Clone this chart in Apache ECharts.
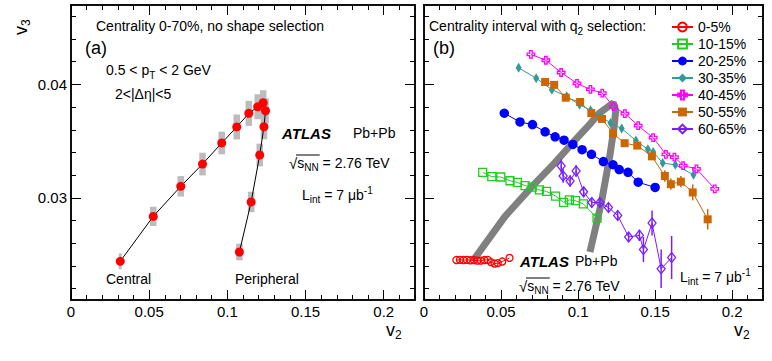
<!DOCTYPE html>
<html><head><meta charset="utf-8">
<script src="https://cdn.jsdelivr.net/npm/echarts@6/dist/echarts.min.js"></script>
<style>html,body{margin:0;padding:0;background:#fff}#c{width:772px;height:361px}</style>
</head><body><div id="c"></div>
<script>
// ---------- Panel (a): centrality 0-70%, no shape selection ----------
const aV2  = [0.0315,0.0526,0.0702,0.0841,0.0964,0.1060,0.1137,0.1194,0.1229,0.1244,0.1234,0.1207,0.1152,0.1077];
const aV3  = [0.02441,0.02837,0.03102,0.03298,0.03484,0.03625,0.03745,0.03803,0.03839,0.03768,0.03627,0.03378,0.02964,0.02523];
const aSys = [0.0007,0.00085,0.0009,0.001,0.001,0.0011,0.0011,0.0011,0.0011,0.0011,0.0011,0.001,0.0009,0.00073];

// ---------- Panel (b): centrality intervals with q2 selection ----------
const names = ['0-5%','10-15%','20-25%','30-35%','40-45%','50-55%','60-65%'];
const c0005_v2 = [0.0210,0.0233,0.0256,0.0278,0.0301,0.0324,0.0346,0.0369,0.0392,0.0414,0.0434,0.0458,0.0479,0.0508,0.0555];
const c0005_v3 = [0.02452,0.02454,0.02452,0.02454,0.02450,0.02452,0.02447,0.02447,0.02452,0.02454,0.02434,0.02421,0.02425,0.02439,0.02471];
const c1015_v2 = [0.0381,0.0440,0.0498,0.0558,0.0606,0.0656,0.0702,0.0749,0.0795,0.0854,0.0906,0.0944,0.0984,0.1034,0.1123];
const c1015_v3 = [0.03224,0.03187,0.03184,0.03151,0.03136,0.03108,0.03094,0.03070,0.03057,0.03016,0.02961,0.02982,0.02975,0.02947,0.02822];
const c2025_v2 = [0.0521,0.0623,0.0704,0.0786,0.0851,0.0909,0.0966,0.1026,0.1087,0.1164,0.1227,0.1267,0.1324,0.1390,0.1500];
const c2025_v3 = [0.03746,0.03669,0.03646,0.03582,0.03538,0.03509,0.03471,0.03425,0.03384,0.03320,0.03292,0.03250,0.03225,0.03138,0.03092];
const c3035_v2 = [0.0614,0.0728,0.0830,0.0926,0.1010,0.1081,0.1150,0.1210,0.1283,0.1375,0.1453,0.1487,0.1549,0.1631,0.1749];
const c3035_v3 = [0.04146,0.04055,0.03954,0.03895,0.03820,0.03772,0.03715,0.03661,0.03611,0.03505,0.03428,0.03404,0.03307,0.03291,0.03204];
const c4045_v2 = [0.0694,0.0791,0.0890,0.0993,0.1080,0.1157,0.1230,0.1304,0.1390,0.1487,0.1570,0.1625,0.1682,0.1768,0.1887];
const c4045_v3 = [0.04265,0.04213,0.04105,0.04009,0.03956,0.03924,0.03804,0.03743,0.03636,0.03531,0.03384,0.03360,0.03285,0.03256,0.03079];
const c5055_v2 = [0.0786,0.0845,0.0920,0.1013,0.1086,0.1155,0.1227,0.1302,0.1384,0.1479,0.1563,0.1602,0.1667,0.1744,0.1841];
const c5055_v3 = [0.04022,0.03996,0.03883,0.03845,0.03747,0.03696,0.03568,0.03482,0.03461,0.03366,0.03193,0.03121,0.03143,0.03048,0.02811];
const c5055_err= [0.0002,0.0002,0.0002,0.0002,0.0002,0.0002,0.0002,0.0003,0.0003,0.0003,0.0005,0.0005,0.0005,0.0007,0.0009];
const c6065_v2 = [0.0890,0.0903,0.0948,0.0987,0.1036,0.1089,0.1142,0.1197,0.1257,0.1328,0.1398,0.1424,0.1480,0.1539,0.1607];
const c6065_v3 = [0.03281,0.03193,0.03149,0.03237,0.03053,0.02959,0.02959,0.02915,0.02845,0.02656,0.02670,0.02545,0.02778,0.02375,0.02474];
const c6065_err= [0.0006,0.0006,0.0005,0.0005,0.0004,0.0004,0.0004,0.0004,0.0004,0.0004,0.0005,0.0011,0.0011,0.0017,0.0019];

// ---------- axis ticks ----------
const xMajor = [0,0.05,0.1,0.15,0.2];
const xMinor = [0,0.01,0.02,0.03,0.04,0.05,0.06,0.07,0.08,0.09,0.1,0.11,0.12,0.13,0.14,0.15,0.16,0.17,0.18,0.19,0.2,0.21,0.22];
const yMajor = [0.03,0.04];
const yMinor = [0.022,0.024,0.026,0.028,0.03,0.032,0.034,0.036,0.038,0.04,0.042,0.044,0.046];
const X_MIN=0, X_MAX=0.22, Y_MIN=0.021, Y_MAX=0.047;

const FF = '"Liberation Sans", Arial, Helvetica, sans-serif';
const pair = (a,b)=>a.map((v,i)=>[v,b[i]]);

function xAx(g,pos,ticks,len,lab){
  return {type:'value',gridIndex:g,position:pos,min:X_MIN,max:X_MAX,
    axisLine:{show:true,onZero:false,lineStyle:{color:'#000',width:1.5}},
    axisTick:{show:true,inside:true,length:len,customValues:ticks,lineStyle:{color:'#000',width:1}},
    axisLabel:{show:lab,customValues:ticks,margin:4,color:'#000',fontSize:15,fontFamily:FF,
      formatter:v=>String(+(+v).toFixed(2))},
    splitLine:{show:false}};
}
function yAx(g,pos,ticks,len,lab){
  return {type:'value',gridIndex:g,position:pos,min:Y_MIN,max:Y_MAX,
    axisLine:{show:true,onZero:false,lineStyle:{color:'#000',width:1.5}},
    axisTick:{show:true,inside:true,length:len,customValues:ticks,lineStyle:{color:'#000',width:1}},
    axisLabel:{show:lab,customValues:ticks,margin:4,color:'#000',fontSize:15,fontFamily:FF,
      formatter:v=>(+v).toFixed(2)},
    splitLine:{show:false}};
}
const xAxis=[], yAxis=[];
[0,1].forEach(g=>{
  xAxis.push(xAx(g,'bottom',xMajor,10,true), xAx(g,'bottom',xMinor,5,false), xAx(g,'top',xMajor,10,false), xAx(g,'top',xMinor,5,false));
  yAxis.push(yAx(g,'left',yMajor,10,g===0), yAx(g,'left',yMinor,5,false), yAx(g,'right',yMajor,10,false), yAx(g,'right',yMinor,5,false));
});

// ---------- text helper ----------
const ctx = document.createElement('canvas').getContext('2d');
function fnt(s){ return (s.i?'italic ':'')+(s.b?'bold ':'')+(s.sz||14)+'px '+FF; }
const graphics=[];
function rt(x,y,segs,target){
  let cx=x; const xs=[];
  segs.forEach(s=>{
    ctx.font=fnt(s); xs.push(cx);
    (target||graphics).push({type:'text',x:cx,y:y+(s.dy||0),silent:true,
      style:{text:s.t,font:fnt(s),fill:'#000',align:'left',verticalAlign:'middle'}});
    cx+=ctx.measureText(s.t).width;
  });
  xs.push(cx); return xs;
}
function sqrtText(x,y){
  const xs = rt(x,y,[{t:'√',sz:15},{t:'s'},{t:'NN',sz:10,dy:4},{t:' = 2.76 TeV'}]);
  graphics.push({type:'line',silent:true,shape:{x1:xs[0]+7,y1:y-8,x2:xs[3]+1,y2:y-8},style:{stroke:'#000',lineWidth:1}});
}
// panel a texts
rt(96,26,[{t:'Centrality 0-70%, no shape selection'}]);
rt(85,48,[{t:'(a)',sz:18}]);
rt(106,70,[{t:'0.5 < p'},{t:'T',sz:10,dy:5},{t:' < 2 GeV'}]);
rt(115,94,[{t:'2<|Δη|<5'}]);
rt(282,133,[{t:'ATLAS',sz:15,b:1,i:1}]);
rt(353,133,[{t:'Pb+Pb'}]);
sqrtText(289,163);
rt(302,195,[{t:'L'},{t:'int',sz:10,dy:4},{t:' = 7 μb'},{t:'-1',sz:10,dy:-5}]);
rt(106,279,[{t:'Central'}]);
rt(235,279,[{t:'Peripheral'}]);
rt(386,330,[{t:'v',sz:18},{t:'2',sz:12,dy:5}]);
// panel b texts
rt(429,26,[{t:'Centrality interval with q'},{t:'2',sz:10,dy:5},{t:' selection:'}]);
rt(433,48,[{t:'(b)',sz:18}]);
rt(520,261,[{t:'ATLAS',sz:15,b:1,i:1}]);
rt(575,261,[{t:'Pb+Pb'}]);
sqrtText(519,286);
rt(680,277,[{t:'L'},{t:'int',sz:10,dy:4},{t:' = 7 μb'},{t:'-1',sz:10,dy:-5}]);
rt(734,330,[{t:'v',sz:18},{t:'2',sz:12,dy:5}]);
// rotated v3
const v3kids=[]; rt(0,0,[{t:'v',sz:18},{t:'3',sz:12,dy:5}],v3kids);
graphics.push({type:'group',x:21,y:35,rotation:Math.PI/2,children:v3kids});

// ---------- series ----------
const boxRender=(params,api)=>{
  const x=api.value(0), lo=api.value(1), hi=api.value(2);
  const w = params.dataIndex===0?3:6.5;
  const p1=api.coord([x,hi]), p2=api.coord([x,lo]);
  return {type:'rect',shape:{x:p1[0]-w/2,y:p1[1],width:w,height:p2[1]-p1[1]},style:{fill:'#bcbcbc'}};
};
const errRender=color=>(params,api)=>{
  const x=api.value(0), lo=api.value(1), hi=api.value(2);
  const p1=api.coord([x,hi]), p2=api.coord([x,lo]);
  return {type:'line',shape:{x1:p1[0],y1:p1[1],x2:p2[0],y2:p2[1]},style:{stroke:color,lineWidth:1.5}};
};
const band=(xs,ys,es)=>xs.map((v,i)=>[v,ys[i]-es[i],ys[i]+es[i]]);

const PLUS='path://M-1,-3L1,-3L1,-1L3,-1L3,1L1,1L1,3L-1,3L-1,1L-3,1L-3,-1L-1,-1Z';
const DIAM='path://M0,-1L1,0L0,1L-1,0Z';
function ls(name,xs,ys,color,symbol,size,open,z){
  return {type:'line',name,xAxisIndex:4,yAxisIndex:4,data:pair(xs,ys),symbol,symbolSize:size,
    showSymbol:true,z:z||3,
    lineStyle:{color,width:1},
    itemStyle:open?{color:'rgba(255,255,255,0)',borderColor:color,borderWidth:1.3}:{color,borderColor:color,borderWidth:0}};
}
const COL={r:'#ff0000',g:'#1fcc1f',b:'#0000ff',t:'#339999',m:'#ff00ff',o:'#cc6600',v:'#7a1fff'};

const series=[
  {type:'custom',xAxisIndex:0,yAxisIndex:0,data:band(aV2,aV3,aSys),renderItem:boxRender,z:1,silent:true},
  {type:'line',xAxisIndex:0,yAxisIndex:0,data:pair(aV2,aV3),symbol:'circle',symbolSize:9,z:3,
    lineStyle:{color:'#000',width:1},itemStyle:{color:'#ff0000',borderWidth:0}},
  {type:'line',xAxisIndex:4,yAxisIndex:4,data:pair(aV2,aV3),symbol:'none',z:1,
    lineStyle:{color:'#808080',width:7}},
  {type:'custom',xAxisIndex:4,yAxisIndex:4,data:band(c5055_v2,c5055_v3,c5055_err),renderItem:errRender(COL.o),z:2,silent:true},
  {type:'custom',xAxisIndex:4,yAxisIndex:4,data:band(c6065_v2,c6065_v3,c6065_err),renderItem:errRender(COL.v),z:2,silent:true},
  ls(names[0],c0005_v2,c0005_v3,COL.r,'circle',7,true),
  ls(names[1],c1015_v2,c1015_v3,COL.g,'rect',8,true),
  ls(names[2],c2025_v2,c2025_v3,COL.b,'circle',9.5,false),
  ls(names[3],c3035_v2,c3035_v3,COL.t,DIAM,[6,10],false),
  ls(names[4],c4045_v2,c4045_v3,COL.m,PLUS,7.5,true),
  ls(names[5],c5055_v2,c5055_v3,COL.o,'rect',8,false),
  ls(names[6],c6065_v2,c6065_v3,COL.v,DIAM,[8,10],true),
];

const chart = echarts.init(document.getElementById('c'),null,{renderer:'svg'});
chart.setOption({
  animation:false,
  backgroundColor:'#fff',
  textStyle:{fontFamily:FF},
  grid:[{left:71,top:5,width:344,height:295,containLabel:false},{left:424,top:5,width:339,height:295,containLabel:false}],
  xAxis, yAxis,
  legend:{data:names,orient:'vertical',left:666,top:15,itemWidth:21,itemHeight:11,itemGap:3,selectedMode:false,
    textStyle:{fontSize:14,color:'#000',fontFamily:FF,lineHeight:14}},
  graphic:graphics,
  series
});
</script></body></html>
